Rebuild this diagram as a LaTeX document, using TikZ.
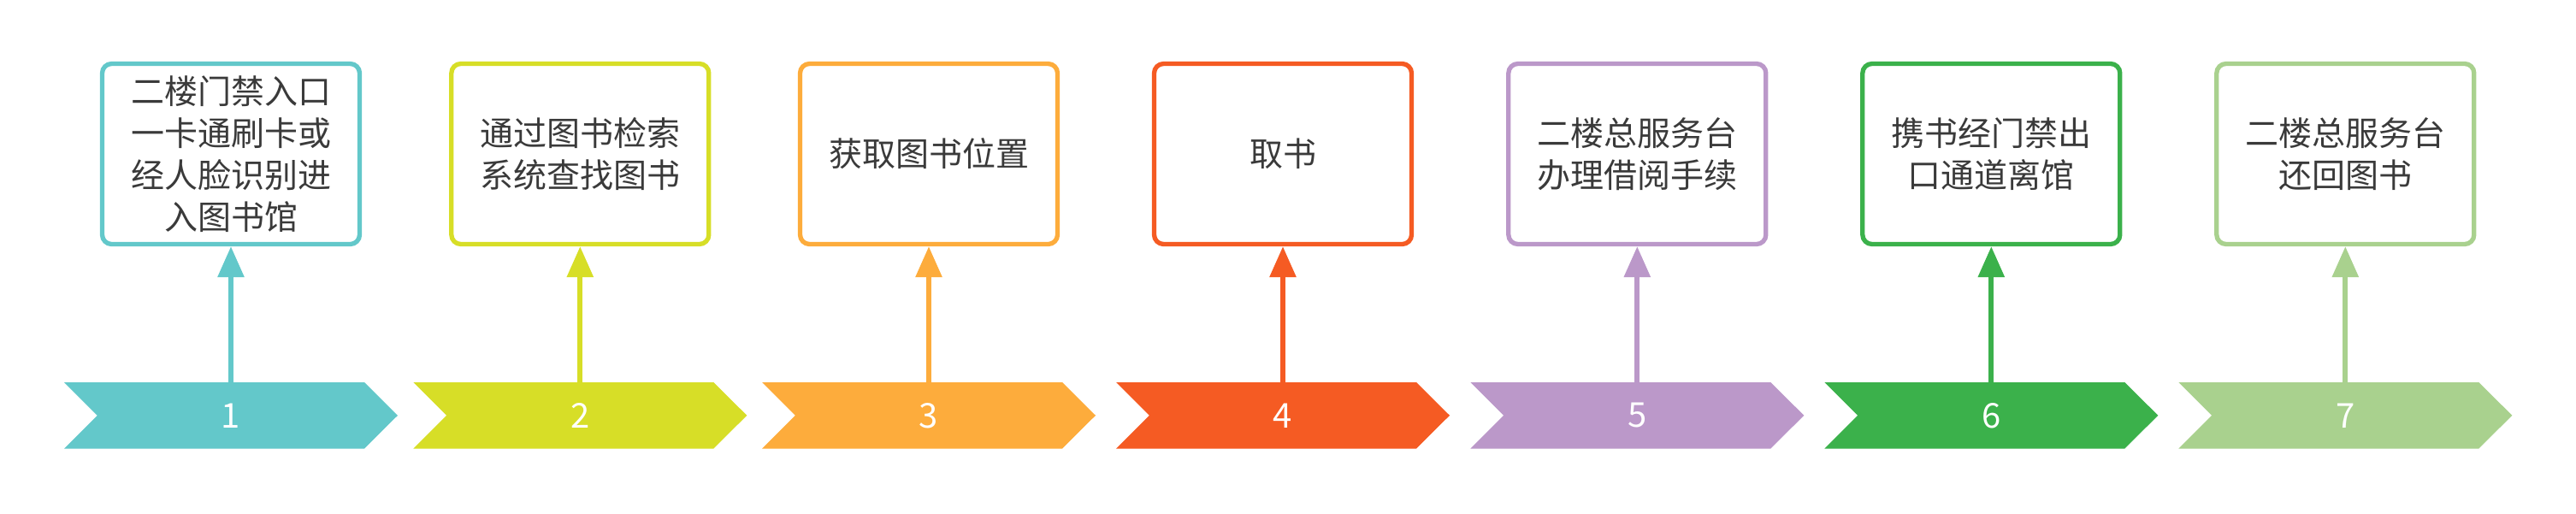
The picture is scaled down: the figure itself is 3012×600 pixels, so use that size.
\documentclass[tikz,border=0pt]{standalone}
\usepackage{fontspec}
\newfontfamily\cjk{Noto Sans CJK SC}
\usetikzlibrary{arrows.meta}
\definecolor{cA}{HTML}{63C8CA}
\definecolor{cB}{HTML}{D7DE27}
\definecolor{cC}{HTML}{FDAC3C}
\definecolor{cD}{HTML}{F55B23}
\definecolor{cE}{HTML}{BB98C9}
\definecolor{cF}{HTML}{3BB14B}
\definecolor{cG}{HTML}{A9D18E}
\definecolor{txt}{HTML}{3A3A3A}
\tikzset{
  infobox/.style={draw=#1, line width=5.3pt, rounded corners=11pt, fill=white,
    minimum width=301pt, minimum height=211pt, align=center, text=txt,
    font=\cjk\fontsize{39pt}{49pt}\selectfont, inner sep=0pt},
  chevnum/.style={minimum width=312pt, minimum height=77.5pt, inner sep=0pt,
    text=white, font=\cjk\fontsize{40pt}{48pt}\selectfont},
  link/.style={draw=#1, line width=6pt, -{Triangle[width=30pt,length=36pt]}}
}
\newcommand{\chev}[2]{%
  \fill[#2] (#1,447) -- (#1+351,447) -- (#1+390,485.75) -- (#1+351,524.5)
     -- (#1,524.5) -- (#1+38.75,485.75) -- cycle;}
\begin{document}
\begin{tikzpicture}[x=1pt,y=-1pt]
\useasboundingbox (0,0) rectangle (3012,600);
\chev{75}{cA}
\chev{483.3}{cB}
\chev{891}{cC}
\chev{1305}{cD}
\chev{1719.3}{cE}
\chev{2133.3}{cF}
\chev{2547.3}{cG}
\node[chevnum] (n1) at (270,485.75) {1};
\node[chevnum] (n2) at (678.3,485.75) {2};
\node[chevnum] (n3) at (1086,485.75) {3};
\node[chevnum] (n4) at (1500,485.75) {4};
\node[chevnum] (n5) at (1914.3,485.75) {5};
\node[chevnum] (n6) at (2328.3,485.75) {6};
\node[chevnum] (n7) at (2742.3,485.75) {7};
\node[infobox=cA] (b1) at (270,180) {二楼门禁入口\\一卡通刷卡或\\经人脸识别进\\入图书馆};
\node[infobox=cB] (b2) at (678.3,180) {通过图书检索\\系统查找图书};
\node[infobox=cC] (b3) at (1086,180) {获取图书位置};
\node[infobox=cD] (b4) at (1500,180) {取书};
\node[infobox=cE] (b5) at (1914.3,180) {二楼总服务台\\办理借阅手续};
\node[infobox=cF] (b6) at (2328.3,180) {携书经门禁出\\口通道离馆};
\node[infobox=cG] (b7) at (2742.3,180) {二楼总服务台\\还回图书};
\draw[link=cA] (n1.north) -- (b1.south);
\draw[link=cB] (n2.north) -- (b2.south);
\draw[link=cC] (n3.north) -- (b3.south);
\draw[link=cD] (n4.north) -- (b4.south);
\draw[link=cE] (n5.north) -- (b5.south);
\draw[link=cF] (n6.north) -- (b6.south);
\draw[link=cG] (n7.north) -- (b7.south);
\end{tikzpicture}
\end{document}
